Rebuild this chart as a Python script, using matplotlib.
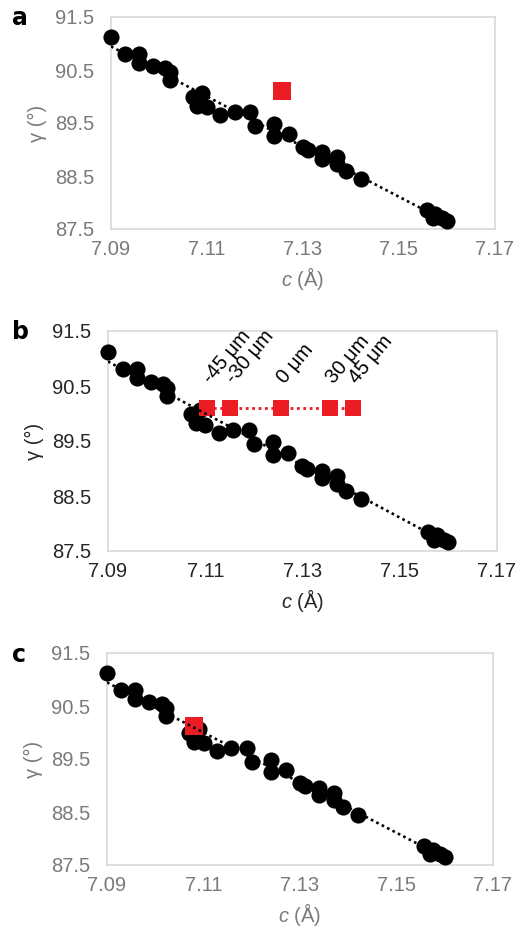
import numpy as np
import matplotlib
matplotlib.use("Agg")
import matplotlib.pyplot as plt

plt.rcParams['font.family'] = ['Liberation Sans', 'DejaVu Sans']
plt.rcParams['mathtext.fontset'] = 'custom'
plt.rcParams['mathtext.it'] = 'Liberation Sans:italic'
plt.rcParams['mathtext.rm'] = 'Liberation Sans'

# Black data points: lattice parameter c (Å) vs angle gamma (°)
c_vals = [7.0900, 7.0930, 7.0959, 7.0959, 7.0988, 7.1013, 7.1022, 7.1022,
          7.1070, 7.1090, 7.1080, 7.1100, 7.1128, 7.1158, 7.1190, 7.1200,
          7.1240, 7.1240, 7.1270, 7.1300, 7.1310, 7.1340, 7.1340, 7.1370,
          7.1370, 7.1390, 7.1420, 7.1558, 7.1570, 7.1576, 7.1590, 7.1600]
gamma_vals = [91.12, 90.81, 90.81, 90.64, 90.57, 90.53, 90.47, 90.31,
              90.00, 90.06, 89.82, 89.80, 89.65, 89.70, 89.70, 89.44,
              89.49, 89.25, 89.29, 89.05, 89.00, 88.96, 88.83, 88.86,
              88.72, 88.60, 88.45, 87.85, 87.70, 87.79, 87.70, 87.66]

# Red points
red_a_c = [7.1256]
red_a_g = [90.11]
red_b_c = [7.1104, 7.1151, 7.1255, 7.1357, 7.1403]
red_b_g = [90.10, 90.10, 90.10, 90.10, 90.10]
red_b_labels = ["-45 μm", "-30 μm", "0 μm", "30 μm", "45 μm"]
red_c_c = [7.1080]
red_c_g = [90.13]

x_ticks = [7.09, 7.11, 7.13, 7.15, 7.17]
x_ticklabels = ["7.09", "7.11", "7.13", "7.15", "7.17"]
y_ticks = [87.5, 88.5, 89.5, 90.5, 91.5]
y_ticklabels = ["87.5", "88.5", "89.5", "90.5", "91.5"]

RED = "#ec1c24"
GRAY_TXT = "#7a7a7a"
DARK_TXT = "#262626"
SPINE = "#d9d9d9"
FS = 14.5

fig = plt.figure(figsize=(5.16, 9.31), dpi=100)

rects = {
    'a': [111/516, 1-229/931, 384/516, 212/931],
    'b': [108/516, 1-551/931, 389/516, 220/931],
    'c': [107/516, 1-865/931, 386/516, 212/931],
}
letter_y = {'a': 1-18/931, 'b': 1-332/931, 'c': 1-655/931}

# linear trendline from the black data
coef = np.polyfit(c_vals, gamma_vals, 1)
xt = np.array([min(c_vals), max(c_vals)])
yt = np.polyval(coef, xt)

DOT = (0, (1, 1.3))


def style_axes(ax, txtcol):
    ax.set_xlim(7.09, 7.17)
    ax.set_ylim(87.5, 91.5)
    ax.set_xticks(x_ticks)
    ax.set_xticklabels(x_ticklabels)
    ax.set_yticks(y_ticks)
    ax.set_yticklabels(y_ticklabels)
    ax.tick_params(axis='y', length=0, labelsize=FS, colors=txtcol, pad=12)
    ax.tick_params(axis='x', length=0, labelsize=FS, colors=txtcol, pad=8)
    for s in ax.spines.values():
        s.set_color(SPINE)
        s.set_linewidth(1.2)
    ax.set_xlabel(r"$c$ (Å)", fontsize=FS, color=txtcol, labelpad=4)
    ax.set_ylabel("γ (°)", fontsize=FS, color=txtcol, labelpad=6)


for key in ['a', 'b', 'c']:
    ax = fig.add_axes(rects[key])
    txtcol = DARK_TXT if key == 'b' else GRAY_TXT
    ax.scatter(c_vals, gamma_vals, s=135, color='black', zorder=3,
               linewidths=0, clip_on=False)
    if key == 'a':
        ax.scatter(red_a_c, red_a_g, s=150, marker='s', color=RED, zorder=4, linewidths=0)
    elif key == 'b':
        ax.plot(red_b_c, red_b_g, color=RED, linestyle=DOT, lw=2.0, zorder=4)
        ax.scatter(red_b_c, red_b_g, s=140, marker='s', color=RED, zorder=5, linewidths=0)
        for xc, yg, lab in zip(red_b_c, red_b_g, red_b_labels):
            ax.annotate(lab, (xc, yg), xytext=(5, 15), textcoords='offset points',
                        rotation=50, rotation_mode='anchor', ha='left', va='bottom',
                        fontsize=FS, color='black')
    else:
        ax.scatter(red_c_c, red_c_g, s=150, marker='s', color=RED, zorder=4, linewidths=0)
    ax.plot(xt, yt, color='black', linestyle=DOT, lw=1.9, zorder=6)
    style_axes(ax, txtcol)
    fig.text(0.023, letter_y[key], key, fontsize=17, fontweight='bold',
             color='black', va='center', ha='left',
             family=['DejaVu Sans'])

fig.savefig("out.png", dpi=100)
